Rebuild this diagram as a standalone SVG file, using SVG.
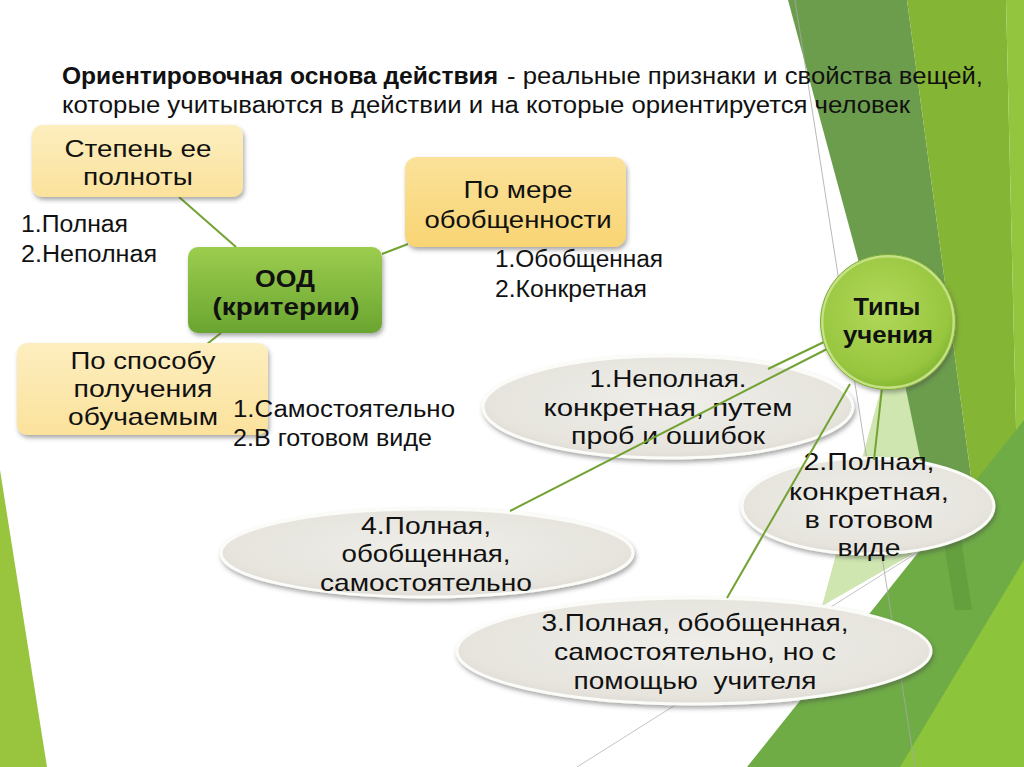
<svg xmlns="http://www.w3.org/2000/svg" width="1024" height="767" viewBox="0 0 1024 767">
<defs>
<style>
text{font-family:"Liberation Sans","Open Sans","DejaVu Sans",sans-serif;fill:#111;}
.t{font-size:23px;}
.n{font-size:24px;text-anchor:middle;}
.l{font-size:23px;}
.b{font-weight:bold;}
.con{stroke:#72a232;stroke-width:2;fill:none;}
.ell{stroke:#fbfbf8;stroke-width:3;filter:url(#sh);}
</style>
<filter id="sh" x="-10%" y="-20%" width="125%" height="150%">
<feDropShadow dx="1.5" dy="3" stdDeviation="2" flood-color="#444" flood-opacity="0.45"/>
</filter>
<linearGradient id="gy1" x1="0" y1="0" x2="0" y2="1">
<stop offset="0" stop-color="#fdeebf"/><stop offset="1" stop-color="#fbe29c"/>
</linearGradient>
<linearGradient id="gy2" x1="0" y1="0" x2="0" y2="1">
<stop offset="0" stop-color="#fbe29a"/><stop offset="1" stop-color="#f8d473"/>
</linearGradient>
<linearGradient id="gg" x1="0" y1="0" x2="0" y2="1">
<stop offset="0" stop-color="#9ccd4e"/><stop offset="1" stop-color="#6aa530"/>
</linearGradient>
<radialGradient id="ge" cx="0.5" cy="0.45" r="0.6">
<stop offset="0" stop-color="#efeee9"/><stop offset="0.8" stop-color="#e6e4dd"/><stop offset="1" stop-color="#d9d7cf"/>
</radialGradient>
<radialGradient id="gc" cx="0.45" cy="0.4" r="0.6">
<stop offset="0" stop-color="#b1d85a"/><stop offset="0.85" stop-color="#98c63f"/><stop offset="1" stop-color="#85b834"/>
</radialGradient>
</defs>

<g id="background">
<rect width="1024" height="767" fill="#ffffff"/>
<polygon points="788,0 907,0 1010,767 995,767" fill="#6c9d4d"/>
<polygon points="907,0 1006,0 1024,767 1010,767" fill="#85b535"/>
<polygon points="1006,0 1024,0 1024,767" fill="#93c63e"/>
<polygon points="882,385 905,385 937,540 822,606" fill="#cfe6b0"/>
<polygon points="747,767 1024,420 1024,767" fill="#6fac46"/>
<polygon points="900,767 1024,560 1024,767" fill="#8cc43b"/>
<polygon points="940,520 958,520 972,610 955,610" fill="#5a9434" opacity="0.5"/>
<line x1="795" y1="0" x2="915" y2="767" stroke="#a8a8a8" stroke-width="1" opacity="0.8"/>
<line x1="577" y1="767" x2="945" y2="535" stroke="#b5b5b5" stroke-width="1" opacity="0.8"/>
<polygon points="0,470 47,767 0,767" fill="#98c43e"/>
</g>

<g id="title">
<text class="t b" x="62" y="84" textLength="436" lengthAdjust="spacingAndGlyphs">Ориентировочная основа действия</text>
<text class="t" x="507" y="84" textLength="476" lengthAdjust="spacingAndGlyphs">- реальные признаки и свойства вещей,</text>
<text class="t" x="62" y="113" textLength="848" lengthAdjust="spacingAndGlyphs">которые учитываются в действии и на которые ориентируется человек</text>
</g>

<g id="connectors-left">
<line class="con" x1="179" y1="197" x2="236" y2="247"/>
<line class="con" x1="382" y1="254" x2="408" y2="244"/>
<line class="con" x1="221" y1="333" x2="207" y2="344"/>
</g>

<g id="node-stepen">
<rect x="32" y="125" width="211" height="72" rx="10" fill="url(#gy1)" filter="url(#sh)"/>
<text class="n" x="138" y="157" textLength="147" lengthAdjust="spacingAndGlyphs">Степень ее</text>
<text class="n" x="138" y="185" textLength="110" lengthAdjust="spacingAndGlyphs">полноты</text>
</g>
<g id="list-stepen">
<text class="l" x="21" y="232" textLength="107" lengthAdjust="spacingAndGlyphs">1.Полная</text>
<text class="l" x="21" y="262" textLength="136" lengthAdjust="spacingAndGlyphs">2.Неполная</text>
</g>

<g id="node-ood">
<rect x="188" y="247" width="194" height="86" rx="10" fill="url(#gg)" filter="url(#sh)"/>
<text class="n b" x="285" y="287" textLength="60" lengthAdjust="spacingAndGlyphs">ООД</text>
<text class="n b" x="286" y="315" textLength="147" lengthAdjust="spacingAndGlyphs">(критерии)</text>
</g>

<g id="node-sposob">
<rect x="17" y="343" width="251" height="92" rx="10" fill="url(#gy1)" filter="url(#sh)"/>
<text class="n" x="143" y="369" textLength="145" lengthAdjust="spacingAndGlyphs">По способу</text>
<text class="n" x="143" y="397" textLength="139" lengthAdjust="spacingAndGlyphs">получения</text>
<text class="n" x="143" y="425" textLength="150" lengthAdjust="spacingAndGlyphs">обучаемым</text>
</g>
<g id="list-sposob">
<text class="l" x="233" y="417" textLength="222" lengthAdjust="spacingAndGlyphs">1.Самостоятельно</text>
<text class="l" x="233" y="446" textLength="199" lengthAdjust="spacingAndGlyphs">2.В готовом виде</text>
</g>

<g id="node-mera">
<rect x="405" y="157" width="221" height="90" rx="12" fill="url(#gy2)" filter="url(#sh)"/>
<text class="n" x="518" y="198" textLength="109" lengthAdjust="spacingAndGlyphs">По мере</text>
<text class="n" x="518" y="228" textLength="187" lengthAdjust="spacingAndGlyphs">обобщенности</text>
</g>
<g id="list-mera">
<text class="l" x="495" y="267" textLength="168" lengthAdjust="spacingAndGlyphs">1.Обобщенная</text>
<text class="l" x="495" y="297" textLength="152" lengthAdjust="spacingAndGlyphs">2.Конкретная</text>
</g>

<g id="node-e1">
<ellipse class="ell" cx="668" cy="407" rx="185" ry="51" fill="url(#ge)"/>
<text class="n" x="668" y="387" textLength="157" lengthAdjust="spacingAndGlyphs">1.Неполная.</text>
<text class="n" x="668" y="416" textLength="249" lengthAdjust="spacingAndGlyphs">конкретная, путем</text>
<text class="n" x="668" y="444" textLength="194" lengthAdjust="spacingAndGlyphs">проб и ошибок</text>
</g>

<g id="node-e2">
<ellipse class="ell" cx="868" cy="506" rx="126" ry="48" fill="url(#ge)"/>
<text class="n" x="869" y="470" textLength="131" lengthAdjust="spacingAndGlyphs">2.Полная,</text>
<text class="n" x="869" y="500" textLength="160" lengthAdjust="spacingAndGlyphs">конкретная,</text>
<text class="n" x="869" y="528" textLength="129" lengthAdjust="spacingAndGlyphs">в готовом</text>
<text class="n" x="869" y="556" textLength="63" lengthAdjust="spacingAndGlyphs">виде</text>
</g>

<g id="node-e4">
<ellipse class="ell" cx="427" cy="553" rx="206" ry="44" fill="url(#ge)"/>
<text class="n" x="426" y="534" textLength="130" lengthAdjust="spacingAndGlyphs">4.Полная,</text>
<text class="n" x="426" y="562" textLength="169" lengthAdjust="spacingAndGlyphs">обобщенная,</text>
<text class="n" x="426" y="591" textLength="212" lengthAdjust="spacingAndGlyphs">самостоятельно</text>
</g>

<g id="node-e3">
<ellipse class="ell" cx="694" cy="651" rx="237" ry="53" fill="url(#ge)"/>
<text class="n" x="695" y="631" textLength="307" lengthAdjust="spacingAndGlyphs">3.Полная, обобщенная,</text>
<text class="n" x="695" y="660" textLength="282" lengthAdjust="spacingAndGlyphs">самостоятельно, но с</text>
<text class="n" x="695" y="689" textLength="243" lengthAdjust="spacingAndGlyphs" style="white-space:pre">помощью  учителя</text>
</g>

<g id="connectors-right">
<line class="con" x1="826" y1="341" x2="768" y2="369"/>
<line class="con" x1="827" y1="349" x2="510" y2="511"/>
<line class="con" x1="850" y1="384" x2="727" y2="598"/>
<line class="con" x1="882" y1="388" x2="874" y2="460"/>
</g>

<g id="node-tipy">
<circle cx="888" cy="322" r="66" fill="url(#gc)" stroke="#c4e183" stroke-width="3" filter="url(#sh)"/>
<circle cx="888" cy="322" r="67.5" fill="none" stroke="#7eab35" stroke-width="1"/>
<text class="n b" x="887" y="315" textLength="67" lengthAdjust="spacingAndGlyphs">Типы</text>
<text class="n b" x="888" y="343" textLength="90" lengthAdjust="spacingAndGlyphs">учения</text>
</g>
</svg>
